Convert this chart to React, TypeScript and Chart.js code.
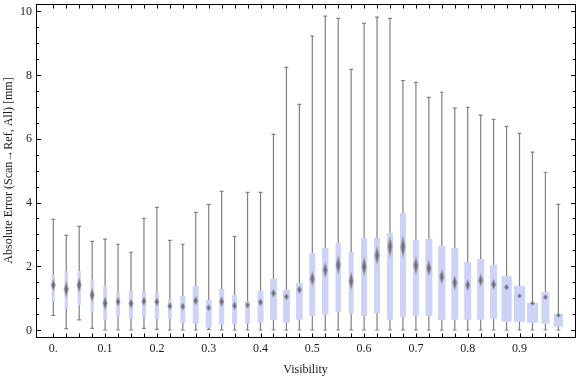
import React, { useEffect, useRef } from "react";
import { Chart, registerables } from "chart.js";

Chart.register(...registerables);

const visibility = [
  0, 0.025, 0.05, 0.075, 0.1, 0.125, 0.15, 0.175, 0.2, 0.225,
  0.25, 0.275, 0.3, 0.325, 0.35, 0.375, 0.4, 0.425, 0.45, 0.475,
  0.5, 0.525, 0.55, 0.575, 0.6, 0.625, 0.65, 0.675, 0.7, 0.725,
  0.75, 0.775, 0.8, 0.825, 0.85, 0.875, 0.9, 0.925, 0.95, 0.975,
];
const whiskerLow = [
  0.46, 0.04, 0.32, 0.05, 0, 0, 0, 0.05, 0.02, 0,
  0, 0, 0.02, 0, 0, 0, 0, 0, 0, 0,
  0, 0, 0, 0, 0, 0, 0, 0, 0, 0,
  0, 0, 0, 0, 0, 0, 0, 0, 0, 0,
];
const quartile1 = [
  0.89, 0.67, 0.79, 0.57, 0.31, 0.42, 0.35, 0.44, 0.35, 0.35,
  0.23, 0.2, 0.07, 0.17, 0.17, 0.2, 0.23, 0.32, 0.23, 0.32,
  0.44, 0.48, 0.56, 0.51, 0.44, 0.52, 0.32, 0.41, 0.44, 0.44,
  0.31, 0.32, 0.32, 0.32, 0.35, 0.26, 0.26, 0.23, 0.2, 0.1,
];
const medians = [
  1.41, 1.28, 1.41, 1.1, 0.84, 0.89, 0.83, 0.9, 0.88, 0.75,
  0.74, 0.92, 0.7, 0.89, 0.76, 0.78, 0.87, 1.15, 1.04, 1.26,
  1.61, 1.88, 2.04, 1.54, 1.99, 2.34, 2.61, 2.61, 2.02, 1.94,
  1.67, 1.48, 1.41, 1.56, 1.43, 1.34, 1.07, 0.84, 1.03, 0.46,
];
const quartile3 = [
  1.73, 1.84, 1.85, 1.59, 1.38, 1.17, 1.22, 1.22, 1.16, 0.97,
  1.07, 1.38, 0.94, 1.29, 1.1, 0.91, 1.22, 1.6, 1.26, 1.47,
  2.42, 2.57, 2.73, 2.45, 2.89, 2.89, 3.04, 3.67, 2.82, 2.86,
  2.64, 2.57, 2.13, 2.23, 2.04, 1.69, 1.38, 0.85, 1.19, 0.5,
];
const whiskerHigh = [
  3.47, 2.97, 3.25, 2.78, 2.85, 2.69, 2.44, 3.5, 3.85, 2.81,
  2.69, 3.69, 3.94, 4.35, 2.94, 4.32, 4.32, 6.14, 8.24, 7.08,
  9.22, 9.85, 9.78, 8.18, 9.62, 9.82, 9.78, 7.83, 7.77, 7.3,
  7.46, 6.96, 6.99, 6.74, 6.61, 6.39, 6.17, 5.58, 4.95, 3.94,
];
// relative bin weights (box widths are proportional to these)
const binWeights = [
  3.3, 3.3, 3.3, 3.3, 3.7, 3.7, 4.3, 4, 4.3, 3.8,
  5, 6, 6, 5, 5, 5, 6, 7, 7, 6.7,
  6, 6.3, 5.3, 5, 6, 6, 6, 6, 6, 7,
  7.3, 7, 7, 7, 7, 10.3, 11, 11, 8, 9,
];

const xTickValues = [0, 0.1, 0.2, 0.3, 0.4, 0.5, 0.6, 0.7, 0.8, 0.9];
const xTickLabels = ["0.", "0.1", "0.2", "0.3", "0.4", "0.5", "0.6", "0.7", "0.8", "0.9"];
const yTickValues = [0, 2, 4, 6, 8, 10];
const yTickLabels = ["0", "2", "4", "6", "8", "10"];
const yMinorStep = 0.5;

const xTitle = "Visibility";
const yTitle = "Absolute Error (Scan\u2192Ref, All) [mm]";

const FONT = '12px "Liberation Serif", "Times New Roman", serif';

const boxPlotPlugin = {
  id: "boxPlotPlugin",
  afterDatasetsDraw(chart: any) {
    const ctx = chart.ctx as CanvasRenderingContext2D;
    const xs = chart.scales.x;
    const ys = chart.scales.y;
    const area = chart.chartArea;
    const pxPerUnit = xs.getPixelForValue(1) - xs.getPixelForValue(0);
    const weightUnit = 1 / 518;

    ctx.save();
    ctx.beginPath();
    ctx.rect(area.left, area.top, area.right - area.left, area.bottom - area.top);
    ctx.clip();

    // whiskers
    ctx.strokeStyle = "#808080";
    ctx.lineWidth = 1.2;
    visibility.forEach((v, i) => {
      const px = xs.getPixelForValue(v);
      const yLo = ys.getPixelForValue(whiskerLow[i]);
      const yHi = ys.getPixelForValue(whiskerHigh[i]);
      ctx.beginPath();
      ctx.moveTo(px, yLo);
      ctx.lineTo(px, yHi);
      ctx.moveTo(px - 1.9, yLo);
      ctx.lineTo(px + 1.9, yLo);
      ctx.moveTo(px - 1.9, yHi);
      ctx.lineTo(px + 1.9, yHi);
      ctx.stroke();
    });

    // boxes
    ctx.fillStyle = "rgb(204, 211, 246)";
    visibility.forEach((v, i) => {
      const px = xs.getPixelForValue(v);
      const w = binWeights[i] * weightUnit * pxPerUnit;
      const yTop = ys.getPixelForValue(quartile3[i]);
      const yBot = ys.getPixelForValue(quartile1[i]);
      ctx.fillRect(px - w / 2, yTop, w, yBot - yTop);
    });

    // median diamonds
    visibility.forEach((v, i) => {
      const px = xs.getPixelForValue(v);
      const w = binWeights[i] * weightUnit * pxPerUnit;
      const iqrPx = ys.getPixelForValue(quartile1[i]) - ys.getPixelForValue(quartile3[i]);
      const hh = Math.max(2.6, Math.min(12, (0.8 * iqrPx) / w));
      const my = ys.getPixelForValue(medians[i]);
      const layers = [
        { hw: 2.8, hf: 1.0, c: "rgba(130,130,140,0.45)" },
        { hw: 2.0, hf: 0.8, c: "rgba(115,115,120,0.6)" },
        { hw: 1.2, hf: 0.55, c: "rgba(100,100,105,0.75)" },
      ];
      layers.forEach((L) => {
        ctx.fillStyle = L.c;
        ctx.beginPath();
        ctx.moveTo(px, my - hh * L.hf);
        ctx.lineTo(px + L.hw, my);
        ctx.lineTo(px, my + hh * L.hf);
        ctx.lineTo(px - L.hw, my);
        ctx.closePath();
        ctx.fill();
      });
    });
    ctx.restore();

    // frame
    ctx.save();
    ctx.strokeStyle = "#000";
    ctx.lineWidth = 1;
    const L = Math.round(area.left) + 0.5;
    const R = Math.round(area.right) + 0.5;
    const T = Math.round(area.top) + 0.5;
    const B = Math.round(area.bottom) + 0.5;
    ctx.strokeRect(L, T, R - L, B - T);

    // x ticks (bottom & top, inward)
    ctx.beginPath();
    visibility.forEach((v) => {
      const px = Math.round(xs.getPixelForValue(v)) + 0.5;
      ctx.moveTo(px, B);
      ctx.lineTo(px, B - 4);
      ctx.moveTo(px, T);
      ctx.lineTo(px, T + 4);
    });
    // y ticks (left & right, inward)
    const yMax = yTickValues[yTickValues.length - 1];
    for (let k = 0; k * yMinorStep <= yMax + 1e-9; k++) {
      const val = k * yMinorStep;
      const major = yTickValues.includes(val);
      const len = major ? 4.5 : 2.7;
      const py = Math.round(ys.getPixelForValue(val)) + 0.5;
      ctx.moveTo(L, py);
      ctx.lineTo(L + len, py);
      ctx.moveTo(R, py);
      ctx.lineTo(R - len, py);
    }
    ctx.stroke();

    // tick labels
    ctx.fillStyle = "#1a1a1a";
    ctx.font = FONT;
    ctx.textAlign = "center";
    ctx.textBaseline = "alphabetic";
    xTickValues.forEach((v, i) => {
      ctx.fillText(xTickLabels[i], xs.getPixelForValue(v), 352);
    });
    ctx.textAlign = "right";
    ctx.textBaseline = "middle";
    yTickValues.forEach((v, i) => {
      ctx.fillText(yTickLabels[i], area.left - 4, ys.getPixelForValue(v) + 0.5);
    });

    // axis titles
    ctx.textAlign = "center";
    ctx.textBaseline = "alphabetic";
    ctx.fillText(xTitle, (area.left + area.right) / 2, 373);
    ctx.save();
    ctx.translate(12, (area.top + area.bottom) / 2);
    ctx.rotate(-Math.PI / 2);
    ctx.fillText(yTitle, 0, 0);
    ctx.restore();
    ctx.restore();
  },
};

export default function App() {
  const canvasRef = useRef<HTMLCanvasElement | null>(null);

  useEffect(() => {
    const canvas = canvasRef.current;
    if (!canvas) return;
    const chart = new Chart(canvas, {
      type: "scatter",
      data: {
        datasets: [
          {
            label: "median",
            data: visibility.map((v, i) => ({ x: v, y: medians[i] })),
            pointRadius: 0,
            pointHoverRadius: 0,
          },
        ],
      },
      options: {
        animation: false,
        responsive: false,
        devicePixelRatio: 1,
        events: [],
        layout: { padding: { left: 0, top: 4, right: 1, bottom: 0 } },
        plugins: {
          legend: { display: false },
          tooltip: { enabled: false },
          title: { display: false },
        },
        scales: {
          x: {
            type: "linear",
            min: -0.0334,
            max: 1.0071,
            grid: { display: false, drawTicks: false },
            border: { display: false },
            ticks: { display: false },
            afterFit: (s: any) => {
              s.height = 40;
            },
          },
          y: {
            type: "linear",
            min: -0.22,
            max: 10.23,
            grid: { display: false, drawTicks: false },
            border: { display: false },
            ticks: { display: false },
            afterFit: (s: any) => {
              s.width = 36;
            },
          },
        },
      },
      plugins: [boxPlotPlugin],
    });
    return () => chart.destroy();
  }, []);

  return (
    <div style={{ position: "fixed", left: 0, top: 0, width: 576, height: 377, background: "#fff" }}>
      <canvas ref={canvasRef} width={576} height={377} style={{ width: 576, height: 377 }} />
    </div>
  );
}
